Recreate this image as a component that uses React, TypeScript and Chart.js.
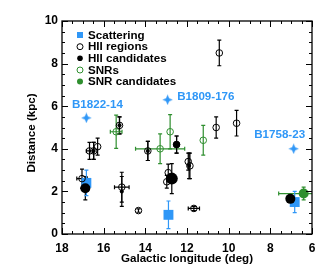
import React, { useEffect, useRef } from 'react';
import { Chart, registerables } from 'chart.js';
Chart.register(...registerables);

// ---- data ----
const scatLon = [16.83, 12.89, 6.83];
const scatDist = [2.4, 0.9, 1.5];
const scatErrY = [0.6, 0.65, 0.5];

const hiiLon = [10.45, 10.6, 9.62, 15.24, 16.68, 16.48, 16.29, 17.04, 15.13, 14.33, 13.88, 12.97, 12.9, 12.5, 11.94, 11.86, 11.67];
const hiiDist = [8.5, 5.0, 5.2, 5.1, 3.9, 3.9, 4.1, 2.6, 2.2, 1.1, 3.9, 2.45, 2.88, 4.2, 3.4, 3.2, 1.2];
const hiiErrY = [0.6, 0.5, 0.6, 0.4, 0.4, 0.4, 0.4, 0.45, 0.7, 0.08, 0.45, 0.3, 0.4, 0.4, 0.4, 0.6, 0.1];
const hiiErrX = [0, 0, 0, 0, 0.15, 0, 0, 0.25, 0.35, 0, 0, 0, 0, 0, 0, 0, 0.27];

const hiiCandLon = [15.24, 16.48, 16.88, 15.13, 13.88, 12.5, 12.73, 11.9, 7.04];
const hiiCandDist = [5.1, 3.9, 2.15, 2.0, 3.9, 4.2, 2.6, 3.2, 1.65];
const hiiCandErrY = [0.4, 0.4, 0.55, 0.7, 0.45, 0.4, 0.7, 0.6, 0];
const hiiCandSizes = [2, 2, 5, 2, 2, 3.5, 6, 2, 5];

const snrLon = [15.4, 13.29, 12.81, 11.22];
const snrDist = [4.8, 4.0, 4.8, 4.4];
const snrErrY = [0.78, 0.7, 0.8, 0.7];
const snrErrX = [0.28, 1.18, 0, 0];

const snrCandLon = [6.4];
const snrCandDist = [1.9];
const snrCandErrY = [0.3];
const snrCandErrX = [1.2];

const psrNames = ['B1822-14', 'B1809-176', 'B1758-23'];
const psrLon = [16.83, 12.93, 6.88];
const psrDist = [5.45, 6.3, 4.0];

const xTicks = [18, 16, 14, 12, 10, 8, 6];
const yTicks = [0, 2, 4, 6, 8, 10];

// ---- styles ----
const BLUE = '#2f97f7';
const GREEN = '#2f8f2f';
const FONT = '"Liberation Sans", Arial, Helvetica, sans-serif';
const psrLabelOffsets = [
  { dx: 11, dy: -13.5, align: 'center' },
  { dx: 9.5, dy: -3.5, align: 'left' },
  { dx: -14, dy: -13.7, align: 'center' },
];

function makeStar(color: string) {
  const c = document.createElement('canvas');
  const s = 11;
  c.width = s; c.height = s;
  const g = c.getContext('2d')!;
  const cx = s / 2, cy = s / 2, r = 5.2, ri = 2.2;
  g.fillStyle = color;
  g.beginPath();
  for (let i = 0; i < 8; i++) {
    const a = (i * Math.PI) / 4 - Math.PI / 2;
    const rr = i % 2 === 0 ? r : ri;
    const x = cx + rr * Math.cos(a), y = cy + rr * Math.sin(a);
    if (i === 0) g.moveTo(x, y); else g.lineTo(x, y);
  }
  g.closePath();
  g.fill();
  return c;
}

function pts(xs: number[], ys: number[]) {
  return xs.map((x, i) => ({ x, y: ys[i] }));
}

const errorBarPlugin = {
  id: 'errbars',
  beforeDatasetsDraw(chart: any) {
    const ctx = chart.ctx;
    const xs = chart.scales.x, ys = chart.scales.y;
    const area = chart.chartArea;
    ctx.save();
    ctx.beginPath();
    ctx.rect(area.left, area.top, area.right - area.left, area.bottom - area.top);
    ctx.clip();
    chart.data.datasets.forEach((ds: any) => {
      const ey = ds.errY || [];
      const ex = ds.errX || [];
      ctx.strokeStyle = ds.errColor || '#000';
      ctx.lineWidth = 1.2;
      ds.data.forEach((p: any, i: number) => {
        const px = xs.getPixelForValue(p.x);
        const py = ys.getPixelForValue(p.y);
        const cap = 2;
        if (ey[i]) {
          const y1 = ys.getPixelForValue(p.y + ey[i]);
          const y2 = ys.getPixelForValue(p.y - ey[i]);
          ctx.beginPath();
          ctx.moveTo(px, y1); ctx.lineTo(px, y2);
          ctx.moveTo(px - cap, y1); ctx.lineTo(px + cap, y1);
          ctx.moveTo(px - cap, y2); ctx.lineTo(px + cap, y2);
          ctx.stroke();
        }
        if (ex[i]) {
          const x1 = xs.getPixelForValue(p.x + ex[i]);
          const x2 = xs.getPixelForValue(p.x - ex[i]);
          ctx.beginPath();
          ctx.moveTo(x1, py); ctx.lineTo(x2, py);
          ctx.moveTo(x1, py - cap); ctx.lineTo(x1, py + cap);
          ctx.moveTo(x2, py - cap); ctx.lineTo(x2, py + cap);
          ctx.stroke();
        }
      });
    });
    ctx.restore();
  },
};

const decorPlugin = {
  id: 'decor',
  afterDraw(chart: any) {
    const ctx = chart.ctx;
    const xs = chart.scales.x, ys = chart.scales.y;
    const a = chart.chartArea;
    ctx.save();
    // frame
    ctx.strokeStyle = '#000';
    ctx.lineWidth = 1.3;
    ctx.strokeRect(a.left, a.top, a.right - a.left, a.bottom - a.top);
    ctx.lineWidth = 1;
    // ticks
    ctx.beginPath();
    for (let v = 6; v <= 18.001; v += 0.5) {
      const px = Math.round(xs.getPixelForValue(v)) + 0.5;
      const len = Math.abs(v % 2) < 1e-6 ? 6 : 3;
      ctx.moveTo(px, a.bottom); ctx.lineTo(px, a.bottom - len);
      ctx.moveTo(px, a.top); ctx.lineTo(px, a.top + len);
    }
    for (let v = 0; v <= 10.001; v += 0.5) {
      const py = Math.round(ys.getPixelForValue(v)) + 0.5;
      const len = Math.abs(v % 2) < 1e-6 ? 6 : 3;
      ctx.moveTo(a.left, py); ctx.lineTo(a.left + len, py);
      ctx.moveTo(a.right, py); ctx.lineTo(a.right - len, py);
    }
    ctx.stroke();

    // axis titles
    ctx.fillStyle = '#000';
    ctx.font = `bold 11.6px ${FONT}`;
    ctx.textAlign = 'center';
    ctx.textBaseline = 'middle';
    ctx.fillText('Galactic longitude (deg)', (a.left + a.right) / 2, 259);
    ctx.save();
    ctx.translate(32, 133);
    ctx.rotate(-Math.PI / 2);
    ctx.fillText('Distance (kpc)', 0, 0);
    ctx.restore();

    // pulsar labels
    ctx.fillStyle = BLUE;
    ctx.font = `bold 11.6px ${FONT}`;
    psrNames.forEach((n, i) => {
      const px = xs.getPixelForValue(psrLon[i]);
      const py = ys.getPixelForValue(psrDist[i]);
      const o = psrLabelOffsets[i];
      ctx.textAlign = o.align as CanvasTextAlign;
      ctx.fillText(n, px + o.dx, py + o.dy);
    });

    // legend
    const lx = 80, tx = 88;
    const rows = [35, 46.7, 58.3, 70, 81.5];
    const labels = ['Scattering', 'HII regions', 'HII candidates', 'SNRs', 'SNR candidates'];
    ctx.textAlign = 'left';
    ctx.fillStyle = '#000';
    labels.forEach((t, i) => ctx.fillText(t, tx, rows[i] + 0.5));
    ctx.fillStyle = BLUE;
    ctx.fillRect(lx - 3, rows[0] - 3, 6, 6);
    ctx.lineWidth = 1;
    ctx.strokeStyle = '#000';
    ctx.beginPath(); ctx.arc(lx, rows[1], 3, 0, Math.PI * 2); ctx.stroke();
    ctx.fillStyle = '#000';
    ctx.beginPath(); ctx.arc(lx, rows[2], 2.8, 0, Math.PI * 2); ctx.fill();
    ctx.strokeStyle = GREEN;
    ctx.beginPath(); ctx.arc(lx, rows[3], 3, 0, Math.PI * 2); ctx.stroke();
    ctx.fillStyle = GREEN;
    ctx.beginPath(); ctx.arc(lx, rows[4], 3, 0, Math.PI * 2); ctx.fill();
    ctx.restore();
  },
};

export default function App() {
  const ref = useRef<HTMLCanvasElement>(null);
  useEffect(() => {
    const star = makeStar(BLUE);
    const chart = new Chart(ref.current!, {
      type: 'scatter',
      data: {
        datasets: [
          {
            label: 'HII regions', data: pts(hiiLon, hiiDist),
            errY: hiiErrY, errX: hiiErrX, errColor: '#000',
            pointStyle: 'circle', pointRadius: 3.3, borderColor: '#000', borderWidth: 1,
            backgroundColor: 'rgba(0,0,0,0)',
          } as any,
          {
            label: 'SNRs', data: pts(snrLon, snrDist),
            errY: snrErrY, errX: snrErrX, errColor: GREEN,
            pointStyle: 'circle', pointRadius: 3.3, borderColor: GREEN, borderWidth: 1,
            backgroundColor: 'rgba(0,0,0,0)',
          } as any,
          {
            label: 'HII candidates', data: pts(hiiCandLon, hiiCandDist),
            errY: hiiCandErrY, errColor: '#000',
            pointStyle: 'circle', pointRadius: hiiCandSizes, borderWidth: 0,
            backgroundColor: '#000',
          } as any,
          {
            label: 'SNR candidates', data: pts(snrCandLon, snrCandDist),
            errY: snrCandErrY, errX: snrCandErrX, errColor: GREEN,
            pointStyle: 'circle', pointRadius: 5, borderWidth: 0,
            backgroundColor: GREEN,
          } as any,
          {
            label: 'Scattering', data: pts(scatLon, scatDist),
            errY: scatErrY, errColor: BLUE,
            pointStyle: 'rect', pointRadius: 7, borderWidth: 0,
            backgroundColor: BLUE,
          } as any,
          {
            label: 'Pulsars', data: pts(psrLon, psrDist),
            pointStyle: star, pointRadius: 5,
            backgroundColor: BLUE,
          } as any,
        ],
      },
      options: {
        responsive: false,
        animation: false,
        devicePixelRatio: 1,
        layout: { padding: { top: 21, right: 19, left: 0, bottom: 0 } },
        plugins: { legend: { display: false }, tooltip: { enabled: false } },
        scales: {
          x: {
            type: 'linear', min: 6, max: 18, reverse: true,
            afterFit: (s: any) => { s.height = 41; },
            afterBuildTicks: (s: any) => { s.ticks = xTicks.map((v) => ({ value: v })); },
            grid: { display: false, drawTicks: false },
            border: { display: false },
            ticks: { color: '#000', padding: 7, font: { family: FONT, size: 12, weight: 'bold' } },
          },
          y: {
            type: 'linear', min: 0, max: 10,
            afterFit: (s: any) => { s.width = 62; },
            afterBuildTicks: (s: any) => { s.ticks = yTicks.map((v) => ({ value: v })); },
            grid: { display: false, drawTicks: false },
            border: { display: false },
            ticks: { color: '#000', padding: 4, font: { family: FONT, size: 12, weight: 'bold' } },
          },
        },
      } as any,
      plugins: [errorBarPlugin, decorPlugin],
    });
    return () => chart.destroy();
  }, []);
  return (
    <div style={{ position: 'absolute', left: 0, top: 0, width: 331, height: 275 }}>
      <canvas ref={ref} width={331} height={275} style={{ width: 331, height: 275 }} />
    </div>
  );
}
